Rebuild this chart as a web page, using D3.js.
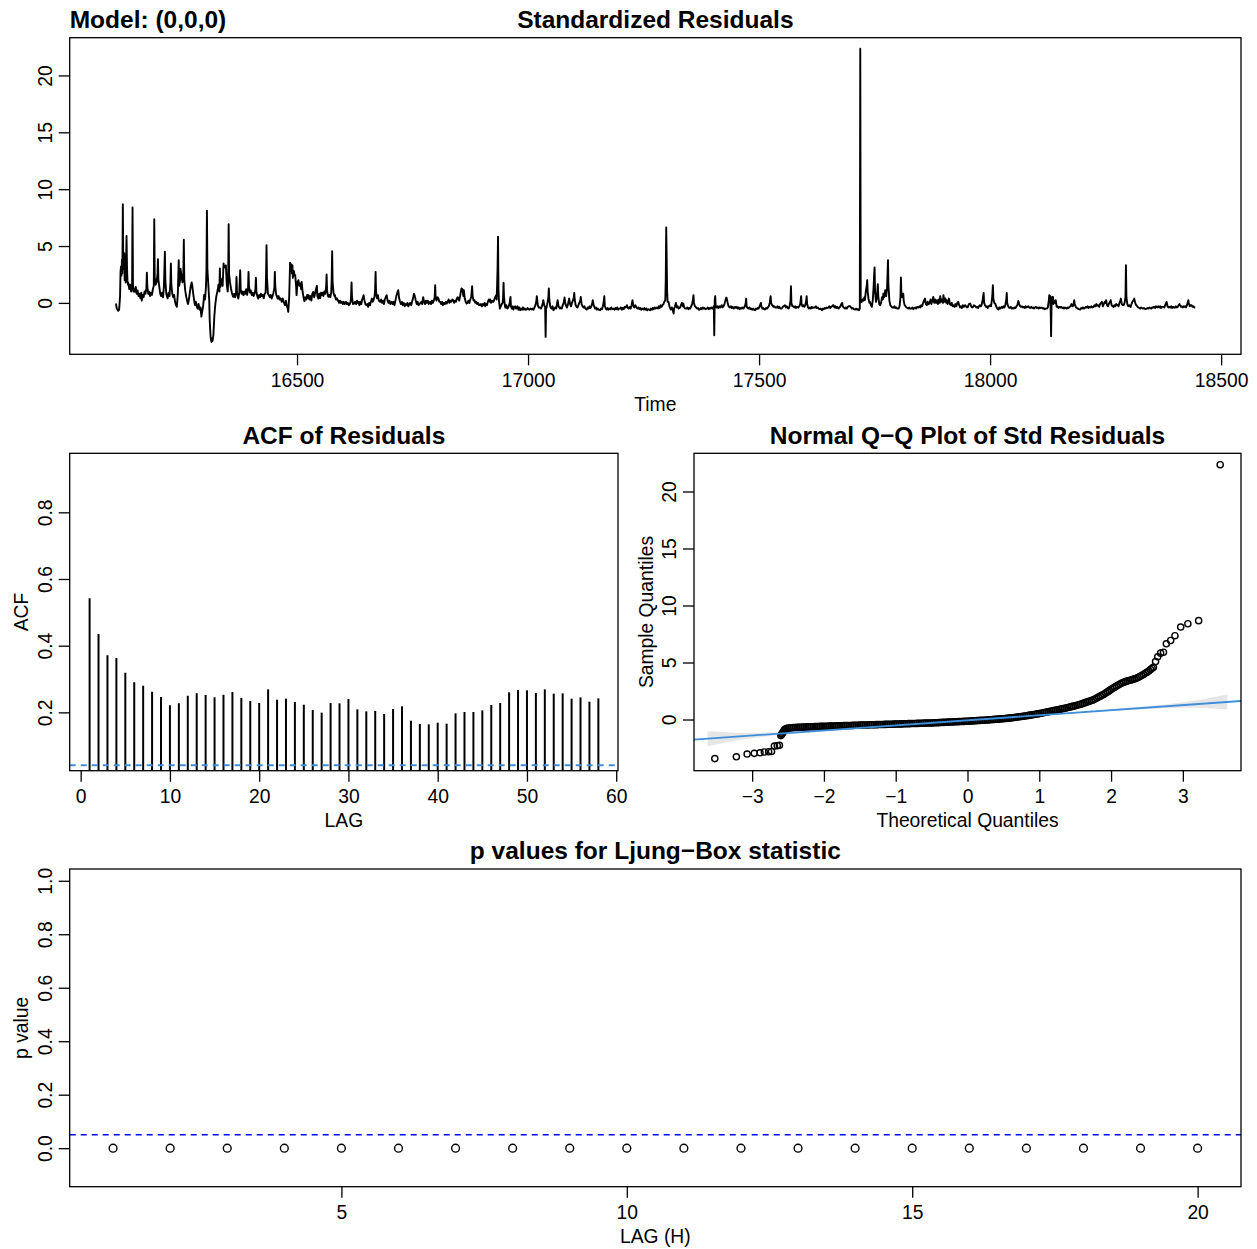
<!DOCTYPE html>
<html><head><meta charset="utf-8">
<script src="https://cdn.jsdelivr.net/npm/d3@7"></script>
<style>
body{margin:0;background:#fff}
svg{display:block}
text{font-family:"Liberation Sans",Arial,Helvetica,sans-serif;fill:#000}
</style>
</head><body>
<svg id="chart" width="1257" height="1249"></svg>
<script>
// ---------------- DATA ----------------
// Standardized residuals: [day (days since 1970-01-01), value]
const residuals = [
[16108,-0.05],[16110,-0.5],[16113,-0.7],[16115,-0.6],[16117,0.6],[16118,2.7],[16119,3.2],[16120,2.4],[16121,3.8],[16122,2.6],[16123,8.67],[16124,3.0],[16125,4.4],[16126,4.35],[16127,2.0],[16128,3.4],[16129,1.8],[16130,3.5],[16131,5.88],[16132,3.2],[16133,2.0],[16134,1.6],[16135,1.75],[16137,1.2],[16139,1.6],[16141,1.0],[16143,1.5],[16144,8.4],[16145,1.6],[16146,1.0],[16148,1.2],[16149,0.97],[16151,1.4],[16153,0.8],[16155,1.1],[16157,0.6],[16159,0.8],[16161,0.4],[16163,0.9],[16164,0.2],[16166,0.7],[16168,0.5],[16170,1.0],[16172,0.8],[16174,1.3],[16175,2.65],[16176,1.4],[16178,0.8],[16180,1.0],[16182,0.6],[16184,0.9],[16186,0.7],[16188,1.2],[16190,1.5],[16191,7.35],[16192,2.3],[16194,1.6],[16196,1.8],[16198,2.5],[16199,3.85],[16200,2.0],[16202,1.4],[16204,0.8],[16206,0.6],[16208,0.9],[16210,0.5],[16212,1.5],[16214,4.5],[16215,2.0],[16217,0.8],[16219,0.5],[16220,0.4],[16222,0.9],[16224,0.6],[16226,1.8],[16227,3.47],[16228,1.6],[16230,0.8],[16232,0.5],[16234,0.7],[16236,0.1],[16238,-0.2],[16240,-0.35],[16242,0.8],[16244,3.76],[16245,1.5],[16247,2.0],[16248,3.0],[16250,2.4],[16252,1.8],[16254,2.6],[16255,5.55],[16256,2.0],[16258,1.1],[16260,0.6],[16262,0.2],[16264,-0.1],[16266,0.3],[16268,0.9],[16270,1.5],[16272,1.8],[16273,1.6],[16275,0.9],[16277,0.3],[16279,-0.2],[16281,0.1],[16283,-0.3],[16285,-0.5],[16287,-0.1],[16289,-0.6],[16291,-0.4],[16293,-1.2],[16295,-0.7],[16297,-0.2],[16299,0.7],[16301,0.3],[16303,1.5],[16304,3.0],[16305,8.11],[16306,3.0],[16308,1.6],[16310,0.2],[16311,-1.5],[16312,-2.3],[16313,-3.0],[16314,-3.3],[16315,-3.43],[16316,-3.1],[16317,-3.35],[16319,-2.85],[16320,-2.0],[16321,-1.2],[16323,-0.2],[16325,0.5],[16327,0.9],[16329,1.3],[16330,1.6],[16332,1.0],[16333,3.03],[16334,1.4],[16336,1.8],[16338,2.15],[16339,1.5],[16340,2.5],[16341,3.47],[16342,3.1],[16344,3.2],[16346,3.3],[16348,1.6],[16350,1.0],[16351,2.0],[16352,6.93],[16353,2.5],[16355,1.8],[16357,1.27],[16359,0.9],[16361,0.6],[16362,0.53],[16364,0.8],[16366,0.5],[16368,0.9],[16369,2.29],[16370,1.0],[16372,0.5],[16373,0.38],[16375,0.9],[16377,2.88],[16378,1.2],[16380,0.8],[16382,1.0],[16384,0.68],[16386,1.0],[16388,0.8],[16390,1.2],[16392,0.7],[16394,1.3],[16395,2.73],[16396,1.5],[16398,0.9],[16400,1.1],[16402,0.68],[16404,0.9],[16406,0.6],[16408,0.8],[16410,1.2],[16411,2.21],[16412,1.0],[16414,0.6],[16416,0.38],[16418,0.7],[16420,0.5],[16422,0.8],[16424,0.6],[16426,0.7],[16428,0.4],[16430,0.8],[16432,0.9],[16433,2.5],[16434,5.08],[16435,2.2],[16437,0.8],[16439,0.68],[16441,0.5],[16443,0.7],[16445,0.38],[16447,0.6],[16449,0.9],[16451,1.3],[16452,2.73],[16453,1.4],[16455,0.7],[16457,0.5],[16458,0.38],[16460,0.6],[16462,0.3],[16464,0.4],[16466,0.2],[16467,0.09],[16469,0.4],[16471,0.1],[16473,-0.1],[16474,-0.2],[16476,0.2],[16478,-0.3],[16480,-0.5],[16481,-0.79],[16483,0.5],[16484,2.0],[16485,3.53],[16486,3.2],[16487,3.4],[16489,2.6],[16490,3.32],[16491,2.2],[16493,2.8],[16495,2.4],[16496,2.44],[16498,1.5],[16499,0.68],[16501,1.8],[16503,2.0],[16505,1.5],[16507,1.7],[16509,1.2],[16510,1.85],[16512,1.0],[16514,0.5],[16516,0.15],[16518,0.5],[16520,0.3],[16522,0.7],[16524,0.4],[16525,0.68],[16527,0.3],[16529,0.6],[16531,0.2],[16533,0.8],[16535,0.97],[16537,0.5],[16539,0.8],[16541,1.2],[16543,1.5],[16544,0.6],[16546,0.38],[16548,0.8],[16550,0.4],[16552,0.9],[16553,0.68],[16555,0.9],[16557,0.6],[16559,1.0],[16561,0.8],[16563,1.4],[16564,2.5],[16565,1.1],[16567,0.6],[16568,0.53],[16570,0.7],[16572,0.5],[16574,0.9],[16575,2.0],[16576,4.55],[16577,1.8],[16579,0.9],[16581,0.6],[16582,0.68],[16584,0.3],[16586,0.4],[16588,0.2],[16589,0.24],[16591,0.0],[16593,0.2],[16595,0.0],[16597,0.1],[16599,-0.1],[16601,0.1],[16603,-0.1],[16604,-0.06],[16606,0.1],[16608,-0.1],[16610,0.0],[16612,-0.2],[16614,-0.1],[16616,0.1],[16617,0.6],[16618,1.8],[16619,0.5],[16621,-0.1],[16623,0.0],[16624,-0.06],[16626,0.1],[16628,-0.1],[16630,0.2],[16632,0.0],[16633,0.09],[16635,-0.2],[16637,0.1],[16639,-0.1],[16641,0.3],[16643,0.5],[16644,0.68],[16646,0.2],[16648,-0.1],[16650,-0.2],[16652,-0.1],[16654,-0.35],[16656,0.0],[16658,-0.2],[16660,0.1],[16662,0.38],[16664,0.1],[16666,0.3],[16668,0.6],[16669,1.2],[16670,2.73],[16671,1.0],[16673,0.4],[16675,0.68],[16677,0.2],[16680,0.09],[16682,0.3],[16684,0.0],[16686,0.2],[16688,-0.1],[16690,0.3],[16692,0.5],[16694,0.68],[16696,0.2],[16698,0.0],[16700,0.2],[16702,-0.1],[16705,0.09],[16707,-0.1],[16709,0.1],[16711,-0.2],[16713,0.2],[16715,0.6],[16717,0.9],[16719,1.12],[16721,0.4],[16723,0.1],[16725,-0.1],[16727,0.09],[16729,-0.2],[16731,0.0],[16733,-0.3],[16735,-0.1],[16737,-0.2],[16739,0.0],[16741,-0.3],[16743,-0.1],[16745,0.0],[16747,-0.2],[16749,0.1],[16751,0.4],[16753,0.8],[16755,0.6],[16757,0.2],[16759,-0.1],[16761,0.1],[16763,-0.2],[16766,-0.06],
[16769,0.1],[16771,-0.1],[16773,0.5],[16775,0.1],[16777,-0.1],[16779,0.2],[16781,0.0],[16783,0.2],[16785,-0.1],[16788,0.1],[16790,-0.1],[16792,0.2],[16794,0.0],[16796,0.2],[16798,0.5],[16799,1.56],[16800,0.4],[16802,0.2],[16804,0.5],[16806,0.38],[16808,0.1],[16810,0.09],[16812,-0.1],[16814,0.1],[16816,-0.2],[16818,0.0],[16820,-0.1],[16822,0.1],[16824,-0.06],[16826,0.1],[16828,0.3],[16830,0.0],[16832,0.2],[16834,0.1],[16836,0.3],[16838,0.24],[16840,0.0],[16842,0.2],[16844,0.1],[16846,0.4],[16848,0.5],[16849,0.38],[16851,0.2],[16853,0.6],[16855,1.1],[16856,1.27],[16858,1.2],[16860,0.6],[16861,1.12],[16863,0.4],[16865,0.1],[16867,-0.06],[16869,0.0],[16871,0.2],[16873,0.0],[16875,0.3],[16877,0.5],[16879,1.47],[16880,0.6],[16882,0.2],[16884,0.24],[16886,0.0],[16888,0.1],[16890,-0.1],[16892,0.0],[16894,-0.2],[16896,-0.2],[16898,-0.1],[16900,-0.3],[16902,-0.1],[16904,-0.2],[16906,0.0],[16907,-0.29],[16909,-0.1],[16911,-0.2],[16913,0.1],[16915,0.3],[16917,0.1],[16918,0.3],[16920,0.0],[16922,0.2],[16924,0.1],[16925,0.09],[16927,0.3],[16929,0.5],[16931,0.68],[16932,0.3],[16933,1.5],[16934,3.0],[16935,5.82],[16936,1.2],[16937,0.2],[16939,-0.5],[16941,-0.3],[16943,-0.1],[16945,0.0],[16946,0.5],[16947,1.77],[16948,0.5],[16950,-0.3],[16951,-0.41],[16953,-0.2],[16955,-0.5],[16957,-0.41],[16959,-0.2],[16960,0.0],[16962,0.53],[16963,-0.3],[16965,-0.5],[16967,-0.3],[16968,-0.59],[16970,-0.4],[16972,-0.3],[16974,-0.5],[16975,-0.41],[16977,-0.3],[16979,-0.6],[16981,-0.4],[16983,-0.64],[16985,-0.5],[16987,-0.6],[16989,-0.4],[16991,-0.6],[16993,-0.5],[16995,-0.6],[16997,-0.59],[16999,-0.45],[17001,-0.55],[17003,-0.6],[17005,-0.5],[17008,-0.59],[17010,-0.5],[17012,-0.6],[17014,-0.4],[17016,-0.2],[17018,0.2],[17019,0.59],[17021,-0.2],[17023,-0.4],[17026,-0.41],[17028,-0.5],[17030,-0.3],[17032,0.0],[17033,0.24],[17035,-0.2],[17037,-0.4],[17038,-2.99],[17039,-0.5],[17040,-0.41],[17042,0.0],[17044,0.5],[17045,1.27],[17046,0.3],[17048,-0.3],[17049,-0.41],[17051,-0.5],[17053,-0.3],[17055,-0.64],[17057,-0.5],[17059,-0.4],[17061,-0.5],[17063,0.0],[17064,0.24],[17066,-0.3],[17069,-0.5],[17071,-0.4],[17073,-0.5],[17075,-0.2],[17077,0.0],[17079,0.47],[17081,-0.1],[17083,-0.3],[17084,-0.41],[17086,-0.2],[17088,0.2],[17089,0.38],[17091,-0.1],[17093,-0.3],[17095,0.0],[17097,0.2],[17099,0.5],[17100,0.88],[17101,0.3],[17103,-0.2],[17105,-0.35],[17107,-0.4],[17109,-0.2],[17111,0.0],[17113,0.2],[17114,0.53],[17116,-0.1],[17118,-0.3],[17120,-0.41],[17122,-0.3],[17124,-0.5],[17127,-0.59],[17129,-0.4],[17131,-0.5],[17133,-0.3],[17135,-0.45],[17137,-0.3],[17139,0.0],[17140,0.24],[17142,-0.2],[17145,-0.5],[17147,-0.4],[17149,-0.6],[17151,-0.5],[17153,-0.6],[17156,-0.64],[17158,-0.5],[17160,-0.55],[17162,-0.3],[17164,0.2],[17165,0.59],[17166,-0.2],[17168,-0.5],[17170,-0.59],[17172,-0.45],[17174,-0.6],[17176,-0.5],[17178,-0.55],[17180,-0.4],[17182,-0.55],[17185,-0.5],[17187,-0.6],[17189,-0.45],[17191,-0.55],[17193,-0.4],[17195,-0.6],[17197,-0.5],[17199,-0.5],[17201,-0.4],[17203,-0.6],[17205,-0.45],[17207,-0.55],[17209,-0.35],[17211,-0.4],[17214,-0.2],[17216,-0.45],[17218,-0.5],[17220,-0.35],[17222,-0.5],[17224,-0.2],[17226,0.24],[17228,-0.3],[17230,-0.4],[17232,-0.2],[17235,-0.41],[17237,-0.5],[17239,-0.4],[17241,-0.55],[17243,-0.45],[17245,-0.6],[17247,-0.5],[17250,-0.59],[17252,-0.45],[17254,-0.6],[17256,-0.5],[17258,-0.65],[17260,-0.55],[17262,-0.6],[17264,-0.64],[17266,-0.5],[17268,-0.6],[17270,-0.45],[17272,-0.55],[17274,-0.4],[17276,-0.5],[17279,-0.41],[17281,-0.5],[17283,-0.3],[17285,-0.45],[17287,-0.2],[17289,-0.35],[17291,-0.2],[17293,-0.1],[17295,0.1],[17297,0.24],[17298,2.0],[17299,6.64],[17300,4.0],[17301,1.0],[17302,0.1],[17304,0.09],[17306,-0.3],[17308,-0.5],[17309,-0.59],[17311,-0.4],[17313,-0.6],[17315,-0.94],[17316,-0.5],[17318,-0.3],[17320,0.0],[17322,-0.4],[17324,-0.3],[17326,-0.5],[17329,-0.41],[17331,-0.2],[17333,0.0],[17335,-0.3],[17336,-0.06],[17338,-0.4],[17340,-0.5],[17343,-0.5],[17345,-0.4],[17347,-0.55],[17349,-0.45],[17351,-0.5],[17353,-0.3],[17355,-0.1],[17357,0.3],[17358,0.68],[17359,0.0],[17361,-0.3],[17364,-0.41],[17366,-0.5],[17368,-0.45],[17370,-0.6],[17372,-0.59],[17374,-0.45],[17376,-0.55],[17378,-0.4],[17380,-0.5],[17382,-0.45],[17384,-0.55],[17387,-0.5],[17389,-0.4],[17391,-0.55],[17393,-0.45],[17395,-0.5],[17397,-0.4],[17399,-0.5],[17401,-0.41],[17402,-0.3],[17403,-2.85],[17404,0.2],[17405,0.59],[17406,-0.2],[17408,-0.41],[17410,-0.3],[17412,-0.45],[17414,-0.3],[17416,-0.4],[17419,-0.2],[17421,-0.4],[17423,-0.3],[17425,-0.1],[17427,0.2],[17429,0.47],[17430,0.4],[17432,0.0],[17434,-0.3],[17437,-0.41],[17439,-0.3],[17441,-0.45],[17443,-0.35],[17445,-0.5],[17448,-0.35],
[17450,-0.45],[17452,-0.35],[17454,-0.5],[17456,-0.4],[17458,-0.55],[17460,-0.45],[17462,-0.5],[17464,-0.4],[17466,-0.5],[17468,-0.4],[17470,-0.2],[17471,0.0],[17472,0.38],[17473,-0.3],[17475,-0.45],[17477,-0.5],[17479,-0.4],[17481,-0.55],[17483,-0.5],[17485,-0.6],[17487,-0.5],[17489,-0.6],[17491,-0.64],[17493,-0.5],[17495,-0.55],[17497,-0.45],[17499,-0.5],[17501,-0.3],[17503,-0.1],[17504,0.0],[17505,-0.3],[17507,-0.5],[17509,-0.45],[17511,-0.55],[17513,-0.58],[17515,-0.45],[17517,-0.5],[17519,-0.4],[17521,-0.3],[17523,0.0],[17525,0.59],[17526,0.0],[17528,-0.2],[17529,-0.2],[17531,-0.35],[17533,-0.3],[17535,-0.4],[17538,-0.41],[17540,-0.3],[17542,-0.45],[17544,-0.35],[17546,-0.5],[17549,-0.5],[17551,-0.35],[17553,-0.3],[17556,-0.2],[17558,-0.4],[17560,-0.3],[17562,-0.45],[17564,-0.5],[17566,-0.3],[17568,0.2],[17569,1.47],[17570,0.0],[17572,-0.3],[17574,-0.29],[17576,-0.4],[17578,-0.3],[17580,-0.45],[17582,-0.35],[17585,-0.41],[17587,-0.3],[17589,-0.1],[17591,0.59],[17592,-0.1],[17594,-0.3],[17596,-0.2],[17598,-0.35],[17600,-0.2],[17602,0.2],[17603,0.59],[17604,-0.1],[17606,-0.4],[17608,-0.5],[17610,-0.4],[17612,-0.5],[17614,-0.35],[17616,-0.45],[17618,-0.4],[17621,-0.41],[17623,-0.3],[17625,-0.45],[17627,-0.4],[17629,-0.5],[17631,-0.55],[17633,-0.5],[17636,-0.64],[17638,-0.5],[17640,-0.55],[17642,-0.45],[17644,-0.5],[17646,-0.4],[17648,-0.45],[17650,-0.41],[17652,-0.3],[17654,-0.45],[17656,-0.35],[17658,-0.3],[17660,-0.2],[17661,-0.2],[17663,-0.4],[17665,-0.3],[17667,-0.45],[17669,-0.35],[17672,-0.5],[17674,-0.4],[17676,-0.3],[17678,-0.1],[17680,0.0],[17681,-0.3],[17683,-0.4],[17686,-0.5],[17688,-0.4],[17690,-0.5],[17692,-0.35],[17694,-0.3],[17697,-0.29],[17699,-0.4],[17701,-0.5],[17703,-0.45],[17705,-0.55],[17708,-0.58],[17710,-0.5],[17712,-0.6],[17714,-0.55],[17716,-0.64],[17718,-0.5],[17719,22.35],[17720,0.2],[17722,0.09],[17724,0.3],[17726,0.2],[17728,0.5],[17729,0.24],[17731,1.0],[17733,1.5],[17734,2.0],[17735,1.0],[17737,0.3],[17739,0.0],[17740,0.09],[17742,-0.2],[17744,-0.35],[17746,0.2],[17748,1.5],[17749,2.5],[17750,3.12],[17751,1.0],[17753,0.09],[17755,0.5],[17757,1.65],[17758,0.6],[17760,-0.1],[17762,-0.2],[17764,0.0],[17766,0.5],[17768,0.3],[17769,0.82],[17771,0.5],[17773,1.12],[17775,0.6],[17777,1.3],[17778,2.5],[17779,3.76],[17780,1.5],[17782,0.2],[17784,-0.2],[17786,-0.3],[17788,-0.4],[17791,-0.41],[17793,-0.3],[17795,-0.45],[17797,-0.4],[17799,-0.5],[17802,-0.5],[17804,-0.3],[17806,0.5],[17807,2.23],[17808,0.8],[17810,0.5],[17812,0.82],[17813,0.2],[17815,-0.2],[17817,-0.29],[17819,-0.4],[17821,-0.45],[17823,-0.5],[17825,-0.4],[17827,-0.5],[17830,-0.5],[17832,-0.4],[17834,-0.55],[17836,-0.45],[17838,-0.4],[17840,-0.5],[17842,-0.35],[17845,-0.41],[17847,-0.3],[17849,-0.4],[17851,-0.2],[17853,-0.3],[17855,0.0],[17857,0.2],[17859,0.38],[17861,-0.1],[17863,-0.2],[17865,0.1],[17867,-0.12],[17869,0.0],[17871,0.3],[17873,-0.1],[17875,0.2],[17877,0.53],[17879,0.0],[17881,0.3],[17883,0.0],[17885,0.24],[17887,-0.1],[17889,0.3],[17891,0.0],[17892,0.59],[17894,0.1],[17896,0.3],[17898,0.0],[17899,0.68],[17901,0.1],[17903,0.4],[17905,0.0],[17906,0.24],[17908,-0.1],[17910,0.2],[17911,0.38],[17913,-0.1],[17915,-0.2],[17917,0.0],[17919,-0.3],[17921,-0.2],[17923,-0.35],[17925,-0.1],[17927,-0.3],[17929,0.0],[17931,0.09],[17933,-0.2],[17935,-0.4],[17937,-0.3],[17939,-0.45],[17941,-0.2],[17943,-0.35],[17946,-0.2],[17948,-0.3],[17950,-0.4],[17952,-0.35],[17954,-0.1],[17957,-0.06],[17959,-0.3],[17961,-0.4],[17963,-0.35],[17965,-0.2],[17968,-0.29],[17970,-0.4],[17972,-0.35],[17974,-0.45],[17976,-0.3],[17978,-0.2],[17980,-0.3],[17982,-0.1],[17984,0.3],[17986,0.88],[17987,0.0],[17989,-0.2],[17991,-0.35],[17993,-0.3],[17995,-0.45],[17997,-0.3],[18000,-0.2],[18002,-0.3],[18004,0.3],[18005,0.8],[18006,1.56],[18007,0.4],[18009,0.0],[18011,-0.06],[18013,-0.3],[18015,-0.45],[18018,-0.58],[18020,-0.4],[18022,-0.5],[18025,-0.35],[18027,-0.45],[18029,-0.3],[18031,-0.4],[18033,-0.2],[18035,0.3],[18036,0.88],[18037,0.0],[18039,-0.3],[18041,-0.41],[18043,-0.45],[18045,-0.35],[18047,-0.5],[18049,-0.45],[18051,-0.5],[18053,-0.4],[18055,-0.45],[18057,-0.3],[18059,-0.2],[18061,0.18],[18063,-0.1],[18065,-0.3],[18067,-0.35],[18069,-0.29],[18071,-0.4],[18073,-0.35],[18075,-0.45],[18077,-0.3],[18079,-0.4],[18081,-0.35],[18083,-0.29],[18085,-0.4],[18087,-0.45],[18089,-0.35],[18091,-0.45],[18093,-0.4],[18095,-0.5],[18097,-0.41],[18099,-0.35],[18101,-0.45],[18103,-0.4],[18105,-0.5],[18107,-0.4],[18110,-0.45],[18112,-0.41],[18114,-0.5],[18116,-0.45],[18118,-0.55],[18120,-0.5],[18123,-0.5],[18125,-0.4],[18127,0.2],[18128,0.68],[18129,0.3],[18130,0.6],[18131,-0.5],[18132,-2.93],[18133,0.0],[18134,0.5],[18136,0.53],[18137,-0.1],[18139,0.2],
[18141,0.0],[18142,0.24],[18144,-0.35],[18146,-0.3],[18148,-0.45],[18150,-0.35],[18152,-0.41],[18154,-0.35],[18156,-0.45],[18158,-0.4],[18160,-0.5],[18162,-0.4],[18164,-0.45],[18166,-0.5],[18168,-0.4],[18170,-0.45],[18172,-0.35],[18174,-0.3],[18176,-0.1],[18177,-0.2],[18179,-0.3],[18181,0.0],[18182,0.24],[18183,-0.1],[18185,-0.3],[18186,-0.41],[18188,-0.45],[18190,-0.5],[18192,-0.55],[18195,-0.58],[18197,-0.45],[18199,-0.5],[18201,-0.4],[18203,-0.5],[18205,-0.45],[18207,-0.35],[18209,-0.41],[18211,-0.3],[18213,-0.45],[18215,-0.35],[18217,-0.4],[18219,-0.3],[18221,-0.4],[18224,-0.35],[18226,-0.2],[18228,-0.3],[18230,-0.1],[18232,-0.25],[18234,-0.2],[18236,-0.35],[18238,-0.1],[18240,0.0],[18242,0.09],[18244,-0.3],[18246,-0.1],[18248,0.1],[18250,0.0],[18251,0.24],[18253,-0.2],[18255,-0.3],[18256,-0.2],[18258,0.0],[18260,0.15],[18261,0.24],[18263,-0.2],[18265,-0.3],[18267,-0.35],[18269,-0.2],[18271,-0.3],[18273,-0.1],[18276,-0.2],[18278,-0.3],[18280,0.0],[18282,0.2],[18283,0.38],[18285,-0.1],[18287,-0.2],[18289,-0.2],[18291,0.0],[18293,0.5],[18294,3.32],[18295,0.5],[18297,-0.1],[18299,-0.29],[18301,-0.2],[18302,-0.3],[18304,-0.35],[18306,-0.1],[18308,0.1],[18310,0.2],[18312,0.38],[18314,0.0],[18316,-0.2],[18317,-0.2],[18319,-0.35],[18321,-0.4],[18323,-0.45],[18325,-0.5],[18327,-0.4],[18329,-0.45],[18331,-0.5],[18333,-0.45],[18336,-0.55],[18339,-0.5],[18341,-0.45],[18343,-0.5],[18345,-0.4],[18347,-0.45],[18349,-0.5],[18351,-0.4],[18353,-0.41],[18355,-0.35],[18357,-0.45],[18359,-0.3],[18362,-0.4],[18364,-0.29],[18366,-0.4],[18368,-0.3],[18370,-0.45],[18372,-0.35],[18375,-0.35],[18377,-0.4],[18379,-0.2],[18381,0.0],[18382,0.09],[18384,-0.3],[18386,-0.4],[18388,-0.35],[18390,-0.41],[18392,-0.3],[18394,-0.45],[18396,-0.35],[18398,-0.4],[18400,-0.41],[18402,-0.3],[18404,-0.4],[18406,-0.35],[18408,-0.2],[18410,-0.1],[18411,-0.2],[18413,-0.35],[18415,-0.3],[18417,-0.4],[18419,-0.3],[18421,-0.35],[18422,-0.29],[18424,-0.4],[18426,-0.2],[18428,0.1],[18429,0.24],[18430,0.0],[18432,-0.3],[18434,-0.2],[18436,-0.2],[18438,-0.35],[18440,-0.3],[18442,-0.4],[18444,-0.41]
];
const timeTicks = [16500, 17000, 17500, 18000, 18500];
const residTicks = [0, 5, 10, 15, 20];

// ACF of residuals
const acfLags = [1,2,3,4,5,6,7,8,9,10,11,12,13,14,15,16,17,18,19,20,21,22,23,24,25,26,27,28,29,30,31,32,33,34,35,36,37,38,39,40,41,42,43,44,45,46,47,48,49,50,51,52,53,54,55,56,57,58];
const acfValues = [0.542,0.435,0.371,0.363,0.319,0.290,0.280,0.262,0.246,0.221,0.227,0.250,0.257,0.252,0.245,0.253,0.261,0.243,0.234,0.228,0.269,0.238,0.241,0.231,0.223,0.207,0.199,0.228,0.227,0.240,0.209,0.203,0.204,0.195,0.210,0.218,0.175,0.165,0.164,0.169,0.166,0.197,0.201,0.201,0.206,0.222,0.228,0.260,0.267,0.266,0.258,0.269,0.256,0.257,0.241,0.245,0.232,0.242];
const acfBound = 0.0414;
const acfXTicks = [0, 10, 20, 30, 40, 50, 60];
const acfYTicks = [0.2, 0.4, 0.6, 0.8];

// Normal Q-Q: [theoretical quantile, sample quantile]
const qqLowerTail = [[-3.52,-3.43],[-3.22,-3.27],[-3.07,-3.03],[-2.97,-2.97],[-2.89,-2.92],[-2.83,-2.85],[-2.77,-2.83],[-2.73,-2.80],[-2.69,-2.33],[-2.65,-2.30],[-2.62,-2.26],[-2.60,-1.41],[-2.59,-1.30],[-2.58,-1.22],[-2.57,-1.12],[-2.56,-1.02],[-2.55,-0.93],[-2.54,-0.86],[-2.525,-0.80]];
const qqBody = [
[-2.5,-0.76],[-2.475,-0.74],[-2.45,-0.725],[-2.425,-0.71],[-2.4,-0.70],[-2.375,-0.69],[-2.35,-0.685],[-2.325,-0.675],[-2.3,-0.67],[-2.275,-0.665],[-2.25,-0.66],[-2.225,-0.65],[-2.2,-0.645],[-2.175,-0.64],[-2.15,-0.635],[-2.125,-0.625],[-2.1,-0.62],[-2.075,-0.61],[-2.05,-0.605],[-2.025,-0.60],
[-2.0,-0.595],[-1.975,-0.59],[-1.95,-0.585],[-1.925,-0.58],[-1.9,-0.575],[-1.875,-0.57],[-1.85,-0.565],[-1.825,-0.56],[-1.8,-0.555],[-1.775,-0.55],[-1.75,-0.545],[-1.725,-0.54],[-1.7,-0.535],[-1.675,-0.53],[-1.65,-0.525],[-1.625,-0.52],[-1.6,-0.515],[-1.575,-0.51],[-1.55,-0.505],[-1.525,-0.50],
[-1.5,-0.495],[-1.475,-0.49],[-1.45,-0.485],[-1.425,-0.48],[-1.4,-0.475],[-1.375,-0.47],[-1.35,-0.465],[-1.325,-0.46],[-1.3,-0.455],[-1.275,-0.45],[-1.25,-0.445],[-1.225,-0.44],[-1.2,-0.44],[-1.175,-0.435],[-1.15,-0.43],[-1.125,-0.425],[-1.1,-0.42],[-1.075,-0.415],[-1.05,-0.41],[-1.025,-0.405],
[-1.0,-0.40],[-0.975,-0.395],[-0.95,-0.39],[-0.925,-0.385],[-0.9,-0.38],[-0.875,-0.375],[-0.85,-0.37],[-0.825,-0.365],[-0.8,-0.36],[-0.775,-0.355],[-0.75,-0.35],[-0.725,-0.345],[-0.7,-0.34],[-0.675,-0.335],[-0.65,-0.33],[-0.625,-0.325],[-0.6,-0.32],[-0.575,-0.315],[-0.55,-0.31],[-0.525,-0.305],
[-0.5,-0.30],[-0.475,-0.293],[-0.45,-0.285],[-0.425,-0.278],[-0.4,-0.27],[-0.375,-0.263],[-0.35,-0.255],[-0.325,-0.248],[-0.3,-0.24],[-0.275,-0.233],[-0.25,-0.225],[-0.225,-0.218],[-0.2,-0.21],[-0.175,-0.203],[-0.15,-0.195],[-0.125,-0.188],[-0.1,-0.18],[-0.075,-0.173],[-0.05,-0.165],[-0.025,-0.158],
[0.0,-0.15],[0.025,-0.14],[0.05,-0.13],[0.075,-0.12],[0.1,-0.11],[0.125,-0.10],[0.15,-0.09],[0.175,-0.08],[0.2,-0.07],[0.225,-0.06],[0.25,-0.05],[0.275,-0.04],[0.3,-0.03],[0.325,-0.018],[0.35,-0.005],[0.375,0.008],[0.4,0.02],[0.425,0.033],[0.45,0.045],[0.475,0.058],
[0.5,0.07],[0.525,0.085],[0.55,0.10],[0.575,0.12],[0.6,0.14],[0.625,0.16],[0.65,0.18],[0.675,0.20],[0.7,0.22],[0.725,0.24],[0.75,0.26],[0.775,0.285],[0.8,0.31],[0.825,0.335],[0.85,0.36],[0.875,0.385],[0.9,0.41],[0.925,0.438],[0.95,0.465],[0.975,0.493],
[1.0,0.52],[1.025,0.553],[1.05,0.585],[1.075,0.618],[1.1,0.65],[1.125,0.683],[1.15,0.715],[1.175,0.748],[1.2,0.78],[1.225,0.813],[1.25,0.845],[1.275,0.878],[1.3,0.91],[1.325,0.945],[1.35,0.98],[1.375,1.015],[1.4,1.05],[1.425,1.09],[1.45,1.13],[1.475,1.17],
[1.5,1.21],[1.525,1.25],[1.55,1.29],[1.575,1.34],[1.6,1.39],[1.625,1.445],[1.65,1.50],[1.675,1.555],[1.7,1.61],[1.725,1.665],[1.75,1.72],[1.775,1.80],[1.8,1.88],[1.825,1.965],[1.85,2.05],[1.875,2.135],[1.9,2.22],[1.925,2.32],[1.95,2.42],[1.975,2.53],
[2.0,2.64],[2.025,2.74],[2.05,2.84],[2.075,2.935],[2.1,3.03],[2.125,3.115],[2.15,3.20],[2.175,3.26],[2.2,3.32],[2.225,3.37],[2.25,3.42],[2.275,3.46],[2.3,3.50],[2.325,3.56],[2.35,3.62],[2.375,3.69],[2.4,3.77],[2.425,3.86],[2.45,3.95],[2.475,4.05],
[2.5,4.15],[2.525,4.26],[2.55,4.38],[2.57,4.50]
];
const qqUpperTail = [[2.59,4.58],[2.62,5.08],[2.65,5.50],[2.69,5.82],[2.73,5.90],[2.77,6.64],[2.83,6.93],[2.89,7.35],[2.97,8.11],[3.07,8.40],[3.22,8.67],[3.52,22.35]];
const qqLineIntercept = -0.07;
const qqLineSlope = 0.445;
// confidence band half-width around the reference line
const qqBandT    = [-3.62,-3.4,-3.2,-3.0,-2.75,-2.5,-2.0,-1.5,-1.0,0,1.0,1.5,2.0,2.5,2.75,3.0,3.2,3.4,3.62];
const qqBandHalf = [0.66,0.48,0.33,0.24,0.16,0.11,0.07,0.05,0.04,0.035,0.04,0.05,0.07,0.11,0.16,0.24,0.33,0.48,0.66];
const qqXTicks = [-3,-2,-1,0,1,2,3];
const qqYTicks = [0,5,10,15,20];

// Ljung-Box p-values
const lbLags = [1,2,3,4,5,6,7,8,9,10,11,12,13,14,15,16,17,18,19,20];
const lbPValues = [0,0,0,0,0,0,0,0,0,0,0,0,0,0,0,0,0,0,0,0];
const lbSignif = 0.05;
const lbXTicks = [5,10,15,20];
const lbYTicks = [0.0,0.2,0.4,0.6,0.8,1.0];

// ---------------- DRAWING ----------------
const FONT_TICK = 19.3, FONT_TITLE = 24.5;
const LIGHT_BLUE = "#3D8EDB";
const svg = d3.select("#chart");
const defs = svg.append("defs");

function clip(id, b){
  defs.append("clipPath").attr("id", id).append("rect")
    .attr("x", b.x0).attr("y", b.y0).attr("width", b.x1 - b.x0).attr("height", b.y1 - b.y0);
  return `url(#${id})`;
}
function box(b){
  svg.append("rect").attr("x", b.x0).attr("y", b.y0).attr("width", b.x1 - b.x0).attr("height", b.y1 - b.y0)
    .attr("fill", "none").attr("stroke", "#000").attr("stroke-width", 1.3);
}
function xAxis(b, scale, ticks, fmt){
  const g = svg.append("g").attr("transform", `translate(0,${b.y1})`)
    .call(d3.axisBottom(scale).tickValues(ticks).tickSize(11).tickPadding(8).tickFormat(fmt));
  g.select(".domain").remove();
  g.selectAll(".tick line").attr("stroke", "#000").attr("stroke-width", 1.3);
  g.selectAll("text").attr("font-size", FONT_TICK).attr("font-family", '"Liberation Sans",Arial,sans-serif').attr("fill", "#000");
}
function yAxis(b, scale, ticks, fmt){
  const g = svg.append("g").attr("transform", `translate(${b.x0},0)`)
    .call(d3.axisLeft(scale).tickValues(ticks).tickSize(11).tickFormat(fmt));
  g.select(".domain").remove();
  g.selectAll(".tick line").attr("stroke", "#000").attr("stroke-width", 1.3);
  g.selectAll("text").attr("x", null).attr("dy", null)
    .attr("transform", "translate(-18,0) rotate(-90)")
    .attr("text-anchor", "middle")
    .attr("font-size", FONT_TICK).attr("font-family", '"Liberation Sans",Arial,sans-serif').attr("fill", "#000");
}
function label(x, y, txt, opts = {}){
  const t = svg.append("text").attr("x", x).attr("y", y).text(txt)
    .attr("font-size", opts.size || FONT_TICK)
    .attr("font-weight", opts.bold ? "bold" : "normal")
    .attr("text-anchor", opts.anchor || "middle");
  if (opts.rotate) t.attr("transform", `rotate(-90,${x},${y})`);
  return t;
}

// ---- Panel 1: Standardized residuals ----
const b1 = {x0: 69.7, x1: 1241, y0: 37.7, y1: 354.3};
const x1 = d3.scaleLinear().domain([16008, 18543]).range([b1.x0, b1.x1]);
const y1 = d3.scaleLinear().domain([-4.52, 23.32]).range([b1.y1, b1.y0]);
svg.append("path").datum(residuals)
  .attr("clip-path", clip("c1", b1))
  .attr("fill", "none").attr("stroke", "#000").attr("stroke-width", 1.9)
  .attr("stroke-linejoin", "round")
  .attr("d", d3.line().x(d => x1(d[0])).y(d => y1(d[1])));
box(b1);
xAxis(b1, x1, timeTicks, d3.format("d"));
yAxis(b1, y1, residTicks, d3.format("d"));
label((b1.x0 + b1.x1) / 2, b1.y1 + 56.5, "Time");
label((b1.x0 + b1.x1) / 2, 28.3, "Standardized Residuals", {size: FONT_TITLE, bold: true});
label(b1.x0, 28.3, "Model: (0,0,0)", {size: FONT_TITLE, bold: true, anchor: "start"});

// ---- Panel 2: ACF ----
const b2 = {x0: 69.7, x1: 618, y0: 453.3, y1: 770.7};
const x2 = d3.scaleLinear().domain([-1.23, 60.2]).range([b2.x0, b2.x1]);
const y2 = d3.scaleLinear().domain([0.025, 0.977]).range([b2.y1, b2.y0]);
const g2 = svg.append("g").attr("clip-path", clip("c2", b2));
g2.selectAll("line.bar").data(acfLags).join("line").attr("class", "bar")
  .attr("x1", d => x2(d)).attr("x2", d => x2(d))
  .attr("y1", y2(0)).attr("y2", (d, i) => y2(acfValues[i]))
  .attr("stroke", "#000").attr("stroke-width", 2);
g2.append("line").attr("x1", b2.x0).attr("x2", b2.x1)
  .attr("y1", y2(acfBound)).attr("y2", y2(acfBound))
  .attr("stroke", LIGHT_BLUE).attr("stroke-width", 1.8).attr("stroke-dasharray", "6,5");
box(b2);
xAxis(b2, x2, acfXTicks, d3.format("d"));
yAxis(b2, y2, acfYTicks, d3.format(".1f"));
label((b2.x0 + b2.x1) / 2, b2.y1 + 56.5, "LAG");
label(28.3, (b2.y0 + b2.y1) / 2, "ACF", {rotate: true});
label((b2.x0 + b2.x1) / 2, 443.6, "ACF of Residuals", {size: FONT_TITLE, bold: true});

// ---- Panel 3: Normal Q-Q ----
const b3 = {x0: 694, x1: 1241, y0: 453.3, y1: 770.7};
const x3 = d3.scaleLinear().domain([-3.81, 3.81]).range([b3.x0, b3.x1]);
const y3 = d3.scaleLinear().domain([-4.49, 23.35]).range([b3.y1, b3.y0]);
const g3 = svg.append("g").attr("clip-path", clip("c3", b3));
const qqLineAt = t => qqLineIntercept + qqLineSlope * t;
g3.append("path").datum(qqBandT)
  .attr("fill", "#E6E6E6").attr("stroke", "none")
  .attr("d", d3.area().x(t => x3(t))
    .y0((t, i) => y3(qqLineAt(t) - qqBandHalf[i]))
    .y1((t, i) => y3(qqLineAt(t) + qqBandHalf[i])));
const qqAll = qqLowerTail.concat(qqBody, qqUpperTail);
g3.selectAll("circle").data(qqAll).join("circle")
  .attr("cx", d => x3(d[0])).attr("cy", d => y3(d[1])).attr("r", 3.1)
  .attr("fill", "none").attr("stroke", "#000").attr("stroke-width", 1.4);
g3.append("line")
  .attr("x1", x3(x3.domain()[0])).attr("y1", y3(qqLineAt(x3.domain()[0])))
  .attr("x2", x3(x3.domain()[1])).attr("y2", y3(qqLineAt(x3.domain()[1])))
  .attr("stroke", LIGHT_BLUE).attr("stroke-width", 1.8);
box(b3);
xAxis(b3, x3, qqXTicks, d3.format("d"));
yAxis(b3, y3, qqYTicks, d3.format("d"));
label((b3.x0 + b3.x1) / 2, b3.y1 + 56.5, "Theoretical Quantiles");
label(652.6, (b3.y0 + b3.y1) / 2, "Sample Quantiles", {rotate: true});
label((b3.x0 + b3.x1) / 2, 443.6, "Normal Q\u2212Q Plot of Std Residuals", {size: FONT_TITLE, bold: true});

// ---- Panel 4: Ljung-Box p-values ----
const b4 = {x0: 69.7, x1: 1241, y0: 869, y1: 1186.7};
const x4 = d3.scaleLinear().domain([0.24, 20.76]).range([b4.x0, b4.x1]);
const y4 = d3.scaleLinear().domain([-0.144, 1.044]).range([b4.y1, b4.y0]);
const g4 = svg.append("g").attr("clip-path", clip("c4", b4));
g4.append("line").attr("x1", b4.x0).attr("x2", b4.x1)
  .attr("y1", y4(lbSignif)).attr("y2", y4(lbSignif))
  .attr("stroke", "#0000FF").attr("stroke-width", 1.6).attr("stroke-dasharray", "6,5");
g4.selectAll("circle").data(lbLags).join("circle")
  .attr("cx", d => x4(d)).attr("cy", (d, i) => y4(lbPValues[i])).attr("r", 3.9)
  .attr("fill", "none").attr("stroke", "#000").attr("stroke-width", 1.4);
box(b4);
xAxis(b4, x4, lbXTicks, d3.format("d"));
yAxis(b4, y4, lbYTicks, d3.format(".1f"));
label((b4.x0 + b4.x1) / 2, b4.y1 + 56.5, "LAG (H)");
label(28.3, (b4.y0 + b4.y1) / 2, "p value", {rotate: true});
label((b4.x0 + b4.x1) / 2, 859.3, "p values for Ljung\u2212Box statistic", {size: FONT_TITLE, bold: true});
</script>
</body></html>
